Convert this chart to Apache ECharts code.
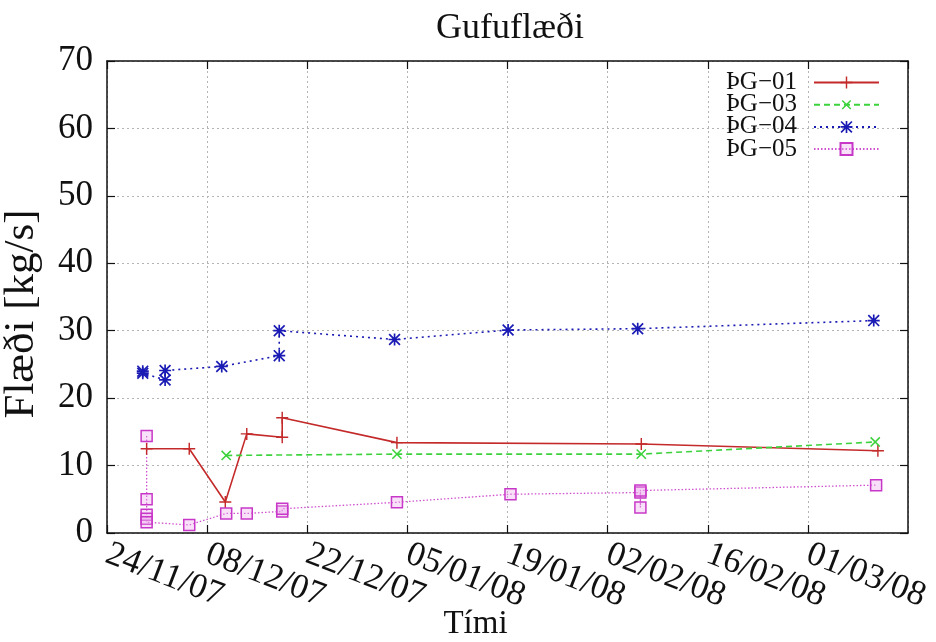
<!DOCTYPE html>
<html>
<head>
<meta charset="utf-8">
<title>Gufuflæði</title>
<script src="https://cdn.jsdelivr.net/npm/echarts@6/dist/echarts.min.js"></script>
<style>
  html, body { margin: 0; padding: 0; background: #fff; }
  #chart { width: 936px; height: 642px; }
</style>
</head>
<body>
<div id="chart"></div>
<script>
// Measurement times (local date + hour) and steam flow [kg/s] per well
const dates01 = ['2007-11-29 13', '2007-12-05 12', '2007-12-10 13', '2007-12-13 13', '2007-12-18 12',
                 '2007-12-18 12', '2008-01-03 13', '2008-02-06 17', '2008-03-10 19'];
const flow01 = [12.5, 12.5, 4.6, 14.7, 14.2, 17.1, 13.4, 13.2, 12.2];

const dates03 = ['2007-12-10 16', '2008-01-03 13', '2008-02-06 17', '2008-03-10 10'];
const flow03 = [11.5, 11.7, 11.7, 13.5];

const dates04 = ['2007-11-29 00', '2007-11-29 00', '2007-12-02 03', '2007-12-02 03', '2007-12-10 01',
                 '2007-12-18 02', '2007-12-18 02', '2008-01-03 05', '2008-01-19 02', '2008-02-06 05',
                 '2008-03-10 05'];
const flow04 = [24.0, 23.7, 22.7, 24.1, 24.7, 26.3, 30.0, 28.7, 30.1, 30.3, 31.5];

const dates05 = ['2007-11-29 13', '2007-11-29 13', '2007-11-29 13', '2007-11-29 13', '2007-11-29 13',
                 '2007-12-05 12', '2007-12-10 16', '2007-12-13 13', '2007-12-18 12', '2007-12-18 12',
                 '2008-01-03 13', '2008-01-19 10', '2008-02-06 14', '2008-02-06 14', '2008-02-06 14',
                 '2008-03-10 13'];
const flow05 = [14.4, 5.0, 2.7, 2.1, 1.6, 1.2, 2.9, 2.9, 3.2, 3.6, 4.55, 5.75, 6.0, 3.8, 6.3, 7.1];

const seriesNames = ['ÞG−01', 'ÞG−03', 'ÞG−04', 'ÞG−05'];

// x axis: days counted from 24/11/07, ticks every two weeks
const startDate = Date.UTC(2007, 10, 24);
const dayMs = 86400000;
const xMin = 0, xMax = 112, xStep = 14;
const yMin = 0, yMax = 70, yStep = 10;

function toDay(s) {
  const [d, h] = s.split(' ');
  const [y, m, dd] = d.split('-').map(Number);
  return (Date.UTC(y, m - 1, dd, Number(h || 0)) - startDate) / dayMs;
}
function dayLabel(v) {
  const t = new Date(startDate + v * dayMs);
  const p = n => String(n).padStart(2, '0');
  return p(t.getUTCDate()) + '/' + p(t.getUTCMonth() + 1) + '/' + p(t.getUTCFullYear() % 100);
}
function pairs(dates, vals) {
  return dates.map((d, i) => [toDay(d), vals[i]]);
}

const serif = "'Liberation Serif', 'DejaVu Serif', 'Times New Roman', serif";

// marker shapes
const plusPath = 'path://M0,4.4H10V5.6H0ZM4.4,0H5.6V10H4.4Z';
const starPath = 'path://M0,4.3H10V5.7H0ZM4.3,0H5.7V10H4.3ZM1,0L10,9L9,10L0,1ZM9,0L10,1L1,10L0,9Z';

const chart = echarts.init(document.getElementById('chart'), null, { renderer: 'canvas' });

const gridLine = { show: true, lineStyle: { color: '#b4b4b4', width: 1, type: [2, 3] } };
const frame = { show: true, onZero: false, lineStyle: { color: '#111', width: 1.5 } };
const ticks = { show: true, inside: true, length: 8, lineStyle: { color: '#111', width: 1.2 } };

chart.setOption({
  backgroundColor: '#fff',
  animation: false,
  title: {
    text: 'Gufuflæði',
    left: 505, textAlign: 'center', top: 6,
    textStyle: { fontFamily: serif, fontSize: 36, fontWeight: 'normal', color: '#111' }
  },
  legend: {
    orient: 'vertical',
    right: 56, top: 70, padding: 0,
    align: 'right',
    itemWidth: 65, itemHeight: 15, itemGap: -2.8,
    textStyle: { fontFamily: serif, fontSize: 25, color: '#111', padding: [0, 12, 0, 0] },
    data: seriesNames
  },
  grid: { left: 107, right: 28, top: 61, bottom: 109, containLabel: false, outerBoundsMode: 'none' },
  xAxis: [{
    type: 'value', min: xMin, max: xMax, interval: xStep, position: 'bottom',
    name: 'Tími', nameLocation: 'middle', nameGap: 75, nameMoveOverlap: false,
    nameTextStyle: { fontFamily: serif, fontSize: 33, color: '#111', padding: [0, 64, 0, 0] },
    axisLine: frame, axisTick: ticks, splitLine: gridLine,
    axisLabel: {
      formatter: dayLabel, rotate: -21, margin: 20, interval: 0,
      showMinLabel: true, showMaxLabel: false, hideOverlap: false,
      fontFamily: serif, fontSize: 35, color: '#111'
    }
  }, {
    type: 'value', min: xMin, max: xMax, interval: xStep, position: 'top',
    axisLine: frame, axisTick: ticks, splitLine: { show: false }, axisLabel: { show: false }
  }],
  yAxis: [{
    type: 'value', min: yMin, max: yMax, interval: yStep, position: 'left',
    name: 'Flæði [kg/s]', nameLocation: 'middle', nameGap: 64, nameRotate: 90, nameMoveOverlap: false,
    nameTextStyle: { fontFamily: serif, fontSize: 43, color: '#111', padding: [0, 34, 0, 0] },
    axisLine: frame, axisTick: ticks, splitLine: gridLine,
    axisLabel: { fontFamily: serif, fontSize: 35, color: '#111', margin: 14 }
  }, {
    type: 'value', min: yMin, max: yMax, interval: yStep, position: 'right',
    axisLine: frame, axisTick: ticks, splitLine: { show: false }, axisLabel: { show: false }
  }],
  series: [{
    name: seriesNames[0], type: 'line', data: pairs(dates01, flow01),
    symbol: plusPath, symbolSize: 12,
    itemStyle: { color: '#c42a2a' },
    lineStyle: { color: '#c42a2a', width: 1.6, type: 'solid' }
  }, {
    name: seriesNames[1], type: 'line', data: pairs(dates03, flow03),
    symbol: plusPath, symbolSize: 13, symbolRotate: 45,
    itemStyle: { color: '#3cd23c' },
    lineStyle: { color: '#3cd23c', width: 1.6, type: [6, 4] }
  }, {
    name: seriesNames[2], type: 'line', data: pairs(dates04, flow04),
    symbol: starPath, symbolSize: 12,
    itemStyle: { color: '#1a1ab4' },
    lineStyle: { color: '#1a1ab4', width: 1.6, type: [2, 4] }
  }, {
    name: seriesNames[3], type: 'line', data: pairs(dates05, flow05),
    symbol: 'rect', symbolSize: 11,
    itemStyle: { color: 'rgba(235,170,235,0.35)', borderColor: '#c838c8', borderWidth: 1.5 },
    lineStyle: { color: '#d050d0', width: 1.3, type: [1.5, 2] }
  }]
});
</script>
</body>
</html>
